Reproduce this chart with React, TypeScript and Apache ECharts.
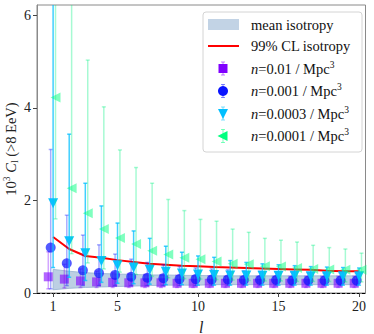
import React, { useEffect, useRef } from "react";
import * as echarts from "echarts";

// multipole index
const L = [1, 2, 3, 4, 5, 6, 7, 8, 9, 10, 11, 12, 13, 14, 15, 16, 17, 18, 19, 20];

// mean isotropy band
const isoLow = [0.07, 0.10, 0.12, 0.13, 0.14, 0.15, 0.16, 0.17, 0.17, 0.17, 0.18, 0.18, 0.18, 0.18, 0.18, 0.18, 0.18, 0.18, 0.18, 0.18];
const isoHigh = [0.51, 0.47, 0.44, 0.42, 0.41, 0.40, 0.39, 0.39, 0.38, 0.38, 0.37, 0.37, 0.37, 0.37, 0.37, 0.37, 0.37, 0.37, 0.37, 0.37];

// 99% CL isotropy
const cl99 = [1.21, 0.95, 0.80, 0.76, 0.71, 0.67, 0.63, 0.61, 0.59, 0.58, 0.56, 0.55, 0.54, 0.53, 0.52, 0.51, 0.50, 0.48, 0.47, 0.47];

// n = 0.01 / Mpc^3
const n001 = [0.35, 0.30, 0.26, 0.24, 0.23, 0.22, 0.22, 0.22, 0.21, 0.21, 0.21, 0.21, 0.21, 0.21, 0.21, 0.21, 0.21, 0.21, 0.21, 0.21];
const n001Lo = [0.09, 0.11, 0.12, 0.12, 0.12, 0.12, 0.12, 0.12, 0.12, 0.12, 0.12, 0.12, 0.12, 0.12, 0.12, 0.12, 0.12, 0.12, 0.12, 0.12];
const n001Hi = [0.89, 0.62, 0.52, 0.47, 0.44, 0.42, 0.40, 0.39, 0.38, 0.37, 0.37, 0.36, 0.36, 0.36, 0.36, 0.36, 0.36, 0.36, 0.36, 0.36];

// n = 0.001 / Mpc^3
const n0001 = [0.98, 0.64, 0.49, 0.43, 0.39, 0.35, 0.33, 0.32, 0.30, 0.30, 0.29, 0.29, 0.28, 0.28, 0.28, 0.27, 0.27, 0.27, 0.27, 0.27];
const n0001Lo = [0.09, 0.16, 0.16, 0.16, 0.16, 0.16, 0.16, 0.16, 0.16, 0.16, 0.16, 0.16, 0.16, 0.16, 0.16, 0.16, 0.16, 0.16, 0.16, 0.16];
const n0001Hi = [3.10, 1.68, 1.25, 1.04, 0.84, 0.73, 0.66, 0.61, 0.57, 0.54, 0.52, 0.50, 0.48, 0.47, 0.46, 0.45, 0.44, 0.43, 0.43, 0.42];

// n = 0.0003 / Mpc^3
const n00003 = [1.94, 1.12, 0.86, 0.69, 0.60, 0.55, 0.50, 0.46, 0.42, 0.40, 0.39, 0.38, 0.38, 0.37, 0.37, 0.37, 0.36, 0.36, 0.36, 0.36];
const n00003Lo = [0.55, 0.34, 0.27, 0.23, 0.21, 0.20, 0.19, 0.18, 0.18, 0.17, 0.17, 0.17, 0.17, 0.17, 0.17, 0.17, 0.17, 0.17, 0.17, 0.17];
const n00003Hi = [7.0, 3.43, 2.37, 1.88, 1.51, 1.34, 1.18, 1.01, 0.88, 0.80, 0.77, 0.70, 0.66, 0.63, 0.61, 0.59, 0.57, 0.56, 0.55, 0.54];

// n = 0.0001 / Mpc^3
const n00001 = [4.22, 2.26, 1.72, 1.38, 1.19, 1.06, 0.91, 0.83, 0.76, 0.73, 0.68, 0.63, 0.62, 0.58, 0.57, 0.54, 0.52, 0.51, 0.50, 0.50];
const n00001Lo = [1.60, 0.85, 0.65, 0.52, 0.45, 0.40, 0.36, 0.33, 0.31, 0.30, 0.29, 0.28, 0.27, 0.26, 0.26, 0.25, 0.25, 0.25, 0.24, 0.24];
const n00001Hi = [7.0, 7.0, 5.03, 4.02, 3.09, 2.71, 2.37, 2.02, 1.78, 1.59, 1.55, 1.38, 1.31, 1.18, 1.14, 1.10, 1.03, 0.98, 0.95, 0.86];

const xTicks = [1, 5, 10, 15, 20];
const yTicks = [0, 2, 4, 6];

const FONT = "'Liberation Serif', 'Times New Roman', serif";

type S = {
  name: string;
  vals: number[];
  lo: number[];
  hi: number[];
  dx: number;
  symbol: string;
  rotate: number;
  size: number;
  color: string;
  markerOpacity: number;
  errColor: string;
};

const SERIES: S[] = [
  { name: "n=0.01 / Mpc3", vals: n001, lo: n001Lo, hi: n001Hi, dx: -0.3, symbol: "rect", rotate: 0, size: 9, color: "#8000ff", markerOpacity: 0.6, errColor: "rgba(128,0,255,0.35)" },
  { name: "n=0.001 / Mpc3", vals: n0001, lo: n0001Lo, hi: n0001Hi, dx: -0.15, symbol: "circle", rotate: 0, size: 10, color: "#0a14ff", markerOpacity: 0.7, errColor: "rgba(10,20,255,0.35)" },
  { name: "n=0.0003 / Mpc3", vals: n00003, lo: n00003Lo, hi: n00003Hi, dx: 0, symbol: "triangle", rotate: 180, size: 10, color: "#00bfff", markerOpacity: 0.95, errColor: "rgba(0,191,255,0.75)" },
  { name: "n=0.0001 / Mpc3", vals: n00001, lo: n00001Lo, hi: n00001Hi, dx: 0.15, symbol: "triangle", rotate: 90, size: 10, color: "#00ff7f", markerOpacity: 0.5, errColor: "rgba(0,240,130,0.35)" },
];

function errRender(color: string, lw: number) {
  return (params: any, api: any) => {
    const x = api.value(0);
    const lo = api.value(1);
    const hi = api.value(2);
    const p1 = api.coord([x, lo]);
    const p2 = api.coord([x, hi]);
    const cw = 2;
    const st = { stroke: color, lineWidth: lw };
    return {
      type: "group",
      children: [
        { type: "line", shape: { x1: p1[0], y1: p1[1], x2: p2[0], y2: p2[1] }, style: st },
        { type: "line", shape: { x1: p1[0] - cw, y1: p1[1], x2: p1[0] + cw, y2: p1[1] }, style: st },
        { type: "line", shape: { x1: p2[0] - cw, y1: p2[1], x2: p2[0] + cw, y2: p2[1] }, style: st },
      ],
    };
  };
}

const richText = {
  it: { fontFamily: FONT, fontSize: 14.5, fontStyle: "italic", lineHeight: 18 },
  sup: { fontFamily: FONT, fontSize: 9.5, lineHeight: 10, verticalAlign: "top" },
  sub: { fontFamily: FONT, fontSize: 9.5, lineHeight: 10, verticalAlign: "bottom" },
  rm: { fontFamily: FONT, fontSize: 14.5, lineHeight: 18 },
};

function legendGraphics() {
  const hx = 223;
  const tx = 251;
  const rows = [24.5, 46, 68.5, 91, 113.5, 136];
  const els: any[] = [];
  els.push({
    type: "rect",
    shape: { x: 203, y: 12, width: 159, height: 140, r: 3 },
    style: { fill: "rgba(255,255,255,0.85)", stroke: "#d4d4d4", lineWidth: 1 },
    z: 100,
  });
  els.push({
    type: "rect",
    shape: { x: 208, y: 19, width: 31, height: 11 },
    style: { fill: "#c2d3e5" },
    z: 101,
  });
  els.push({
    type: "line",
    shape: { x1: 208, y1: rows[1], x2: 239, y2: rows[1] },
    style: { stroke: "#ff0000", lineWidth: 2 },
    z: 101,
  });
  const labels = [
    "{rm|mean isotropy}",
    "{rm|99% CL isotropy}",
    "{it|n}{rm|=0.01 / Mpc}{sup|3}",
    "{it|n}{rm|=0.001 / Mpc}{sup|3}",
    "{it|n}{rm|=0.0003 / Mpc}{sup|3}",
    "{it|n}{rm|=0.0001 / Mpc}{sup|3}",
  ];
  labels.forEach((t, i) => {
    els.push({
      type: "text",
      x: tx,
      y: rows[i],
      style: { text: t, rich: richText, verticalAlign: "middle", align: "left", fill: "#111" },
      z: 101,
    });
  });
  SERIES.forEach((s, i) => {
    const cy = rows[i + 2];
    const ec = s.color;
    els.push({ type: "line", shape: { x1: hx, y1: cy - 6.5, x2: hx, y2: cy + 6.5 }, style: { stroke: ec, lineWidth: 1, opacity: 0.5 }, z: 101 });
    els.push({ type: "line", shape: { x1: hx - 2, y1: cy - 6.5, x2: hx + 2, y2: cy - 6.5 }, style: { stroke: ec, lineWidth: 1, opacity: 0.5 }, z: 101 });
    els.push({ type: "line", shape: { x1: hx - 2, y1: cy + 6.5, x2: hx + 2, y2: cy + 6.5 }, style: { stroke: ec, lineWidth: 1, opacity: 0.5 }, z: 101 });
    const r = 4.5;
    let mk: any;
    if (i === 0) mk = { type: "rect", shape: { x: hx - r, y: cy - r, width: 2 * r, height: 2 * r } };
    else if (i === 1) mk = { type: "circle", shape: { cx: hx, cy, r: 5 } };
    else if (i === 2) mk = { type: "polygon", shape: { points: [[hx - 5, cy - 4.5], [hx + 5, cy - 4.5], [hx, cy + 5.5]] } };
    else mk = { type: "polygon", shape: { points: [[hx - 5.5, cy], [hx + 4.5, cy - 5], [hx + 4.5, cy + 5]] } };
    mk.style = { fill: s.color };
    mk.z = 102;
    els.push(mk);
  });
  return els;
}

export default function App() {
  const ref = useRef<HTMLDivElement>(null);
  useEffect(() => {
    if (!ref.current) return;
    const chart = echarts.init(ref.current, undefined, { renderer: "svg" });

    const bandData = L.map((l, i) => [l, isoLow[i], isoHigh[i]]);
    const series: any[] = [
      {
        type: "custom",
        name: "mean isotropy",
        z: 1,
        clip: true,
        data: bandData,
        encode: { x: 0, y: [1, 2] },
        renderItem: (params: any, api: any) => {
          if (params.dataIndex !== 0) return null;
          const top = L.map((l, i) => api.coord([l, isoHigh[i]]));
          const bot = L.map((l, i) => api.coord([l, isoLow[i]])).reverse();
          return {
            type: "polygon",
            shape: { points: top.concat(bot) },
            style: { fill: "rgba(166,191,218,0.75)", stroke: "rgba(150,178,208,0.8)", lineWidth: 1 },
          };
        },
      },
      {
        type: "line",
        name: "99% CL isotropy",
        z: 2,
        data: L.map((l, i) => [l, cl99[i]]),
        symbol: "none",
        lineStyle: { color: "#ff0000", width: 2 },
      },
    ];
    SERIES.forEach((s, k) => {
      series.push({
        type: "custom",
        name: s.name + " err",
        z: 3 + k * 2,
        clip: true,
        data: L.map((l, i) => [l + s.dx, s.lo[i], s.hi[i]]),
        encode: { x: 0, y: [1, 2] },
        renderItem: errRender(s.errColor, 1.5),
      });
      series.push({
        type: "scatter",
        name: s.name,
        z: 4 + k * 2,
        data: L.map((l, i) => [l + s.dx, s.vals[i]]),
        symbol: s.symbol,
        symbolSize: s.size,
        symbolRotate: s.rotate,
        itemStyle: { color: s.color, opacity: s.markerOpacity },
      });
    });

    chart.setOption({
      animation: false,
      grid: { left: 37, right: 8.5, top: 5, bottom: 41, outerBoundsMode: "none", containLabel: false, show: true, borderColor: "#8a8a8a", borderWidth: 1, backgroundColor: "transparent" },
      xAxis: {
        type: "value",
        min: 0,
        max: 20.4,
        axisLine: { show: true, onZero: false, lineStyle: { color: "#000", width: 1, type: [3, 2] } },
        axisTick: { show: true, length: 4, lineStyle: { color: "#444" }, customValues: xTicks },
        axisLabel: { customValues: xTicks, margin: 6, fontFamily: FONT, fontSize: 14, color: "#222" },
        splitLine: { show: false },
        name: "l",
        nameLocation: "middle",
        nameGap: 26,
        nameMoveOverlap: false,
        nameTextStyle: { fontFamily: FONT, fontSize: 16, fontStyle: "italic", color: "#222" },
      },
      yAxis: {
        type: "value",
        min: 0,
        max: 6.22,
        axisLine: { show: true, lineStyle: { color: "#8a8a8a", width: 1 } },
        axisTick: { show: true, length: 4, lineStyle: { color: "#444" }, customValues: yTicks },
        axisLabel: { customValues: yTicks, margin: 6, fontFamily: FONT, fontSize: 14, color: "#222" },
        splitLine: { show: false },
        name: "{rm|10}{sup|3} {it|C}{sub|l} {rm|(>8 EeV)}",
        nameLocation: "middle",
        nameRotate: 90,
        nameGap: 17,
        nameMoveOverlap: false,
        nameTextStyle: { color: "#222", fontFamily: FONT, fontSize: 14.5, lineHeight: 18, rich: richText },
      },
      graphic: legendGraphics(),
      series,
    });
    return () => chart.dispose();
  }, []);
  return <div ref={ref} style={{ width: 374, height: 334, position: "absolute", left: 0, top: 0 }} />;
}
